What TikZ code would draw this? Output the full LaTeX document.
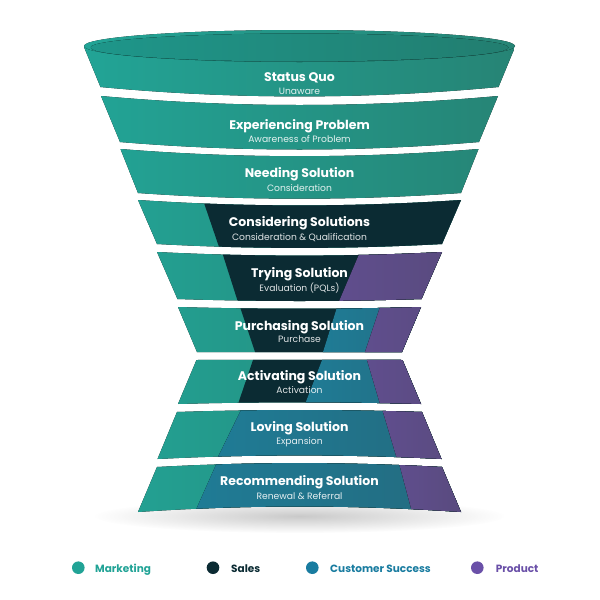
\documentclass[tikz,border=0pt]{standalone}
\usepackage{fontspec}
\setmainfont{Poppins}
\usepackage{tikz}
\usetikzlibrary{calc, fadings}
\definecolor{mktLight}{RGB}{34,164,150}
\definecolor{mktDark}{RGB}{38,132,117}
\definecolor{rimLight}{RGB}{30,150,138}
\definecolor{rimDark}{RGB}{34,126,112}
\definecolor{salesDark}{RGB}{11,43,51}
\definecolor{csLight}{RGB}{31,124,150}
\definecolor{csDark}{RGB}{36,106,126}
\definecolor{prodLight}{RGB}{96,78,142}
\definecolor{prodDark}{RGB}{88,74,124}
\definecolor{mktText}{RGB}{33,163,150}
\definecolor{csText}{RGB}{25,124,160}
\definecolor{prodText}{RGB}{106,80,168}
\tikzfading[name=softshadow, inner color=transparent!40, outer color=transparent!100]
% one band of the funnel: top y, bottom y, half widths, sag of top and bottom edge
\tikzset{band/.style n args={6}{insert path={({299.5-#3},{#1}) .. controls ({299.5-#3/3},{#1+4*(#5)/3}) and ({299.5+#3/3},{#1+4*(#5)/3}) .. ({299.5+#3},{#1}) -- ({299.5+#4},{#2}) .. controls ({299.5+#4/3},{#2+4*(#6)/3}) and ({299.5-#4/3},{#2+4*(#6)/3}) .. ({299.5-#4},{#2}) -- cycle}}}
% colour from a slanted border to the right
\newcommand{\layer}[5]{\fill[#1] ($(#2,#4)!-0.4!(#3,#5)$) -- ($(#2,#4)!1.4!(#3,#5)$) -- (470,#5+25) -- (470,#4-25) -- cycle;}

\begin{document}
\begin{tikzpicture}[x=1pt, y=-1pt,
	mkt/.style={left color=mktLight, right color=mktDark},
	sales/.style={fill=salesDark},
	cs/.style={left color=csLight, right color=csDark},
	prod/.style={left color=prodLight, right color=prodDark},
	title/.style={text=white, font=\bfseries\fontsize{12.5}{14}\selectfont, anchor=base, inner sep=0pt},
	sub/.style={text=white, text opacity=0.88, font=\fontsize{9.2}{11}\selectfont, anchor=base, inner sep=0pt},
	dot/.style={circle, inner sep=0pt, minimum size=12.6pt},
	legend/.style={font=\bfseries\fontsize{10.5}{12}\selectfont, anchor=base west, inner sep=0pt}]
	\useasboundingbox (0,0) rectangle (600,600);
	\fill[white] (0,0) rectangle (600,600);
	\fill[black!35, path fading=softshadow] (299.5,516) ellipse [x radius=205pt, y radius=17pt];
	
	\begin{scope}
		\clip[band={47}{87}{215.5}{199}{15}{9.4}];
		\fill[mkt] (84,27) rectangle (514,107);
	\end{scope}
	\fill[mkt] (299.5,46) ellipse [x radius=215.5pt, y radius=16pt];
	\fill[left color=rimLight, right color=rimDark] (299.5,47.5) ellipse [x radius=209pt, y radius=14pt];
	\begin{scope}
		\clip[band={96}{142}{198.5}{179.5}{9}{7.5}];
		\fill[mkt] (84,76) rectangle (514,162);
	\end{scope}
	\begin{scope}
		\clip[band={149}{193}{179}{161.5}{7.2}{5.7}];
		\fill[mkt] (84,129) rectangle (514,213);
	\end{scope}
	\begin{scope}
		\clip[band={200}{244}{161.5}{142.5}{5.4}{3.9}];
		\fill[mkt] (84,180) rectangle (514,264);
		\layer{sales}{203}{218}{200}{244}
	\end{scope}
	\begin{scope}
		\clip[band={252}{299}{142.5}{122}{3.6}{2}];
		\fill[mkt] (84,232) rectangle (514,319);
		\layer{sales}{222}{237}{252}{299}
		\layer{prod}{360}{340}{252}{299}
	\end{scope}
	\begin{scope}
		\clip[band={307}{352}{121.5}{102.5}{1.7}{0.1}];
		\fill[mkt] (84,287) rectangle (514,372);
		\layer{sales}{240}{255}{307}{352}
		\layer{cs}{337}{323}{307}{352}
		\layer{prod}{380}{365}{307}{352}
	\end{scope}
	\begin{scope}
		\clip[band={360}{404}{103}{121.5}{-0.2}{-1.7}];
		\fill[mkt] (84,340) rectangle (514,424);
		\layer{sales}{253}{238}{360}{404}
		\layer{cs}{322}{305}{360}{404}
		\layer{prod}{367}{380}{360}{404}
	\end{scope}
	\begin{scope}
		\clip[band={412}{459}{122.5}{142}{-2}{-3.6}];
		\fill[mkt] (84,392) rectangle (514,479);
		\layer{cs}{240}{217}{412}{459}
		\layer{prod}{383}{397}{412}{459}
	\end{scope}
	\begin{scope}
		\clip[band={467}{512}{142.5}{161.5}{-3.9}{-5.5}];
		\fill[mkt] (84,447) rectangle (514,532);
		\layer{cs}{215}{195}{467}{512}
		\layer{prod}{400}{412}{467}{512}
	\end{scope}
	
	\node[title] (quo) at (299.5,81.5) {Status Quo};
	\node[sub] (quo-sub) at (299.5,94) {Unaware};
	\node[title] (exp) at (299.5,129.5) {Experiencing Problem};
	\node[sub] (exp-sub) at (299.5,142.5) {Awareness of Problem};
	\node[title] (need) at (299.5,177.3) {Needing Solution};
	\node[sub] (need-sub) at (299.5,191) {Consideration};
	\node[title] (cons) at (299.5,226) {Considering Solutions};
	\node[sub] (cons-sub) at (299.5,240) {Consideration \& Qualification};
	\node[title] (try) at (299.5,277.3) {Trying Solution};
	\node[sub] (try-sub) at (299.5,291.3) {Evaluation (PQLs)};
	\node[title] (buy) at (299.5,330) {Purchasing Solution};
	\node[sub] (buy-sub) at (299.5,342.3) {Purchase};
	\node[title] (act) at (299.5,380) {Activating Solution};
	\node[sub] (act-sub) at (299.5,393.3) {Activation};
	\node[title] (love) at (299.5,431.7) {Loving Solution};
	\node[sub] (love-sub) at (299.5,444.3) {Expansion};
	\node[title] (rec) at (299.5,485) {Recommending Solution};
	\node[sub] (rec-sub) at (299.5,499) {Renewal \& Referral};
	
	\node[dot, fill=mktText] (mkt-dot) at (78.3,567.7) {};
	\node[legend, text=mktText] (mkt-label) at (95,572.3) {Marketing};
	\node[dot, fill=salesDark] (sales-dot) at (213,567.7) {};
	\node[legend, text=salesDark] (sales-label) at (231,572.3) {Sales};
	\node[dot, fill=csText] (cs-dot) at (312.3,567.7) {};
	\node[legend, text=csText] (cs-label) at (330,572.3) {Customer Success};
	\node[dot, fill=prodText] (prod-dot) at (477.3,567.7) {};
	\node[legend, text=prodText] (prod-label) at (495.7,572.3) {Product};
\end{tikzpicture}
\end{document}
